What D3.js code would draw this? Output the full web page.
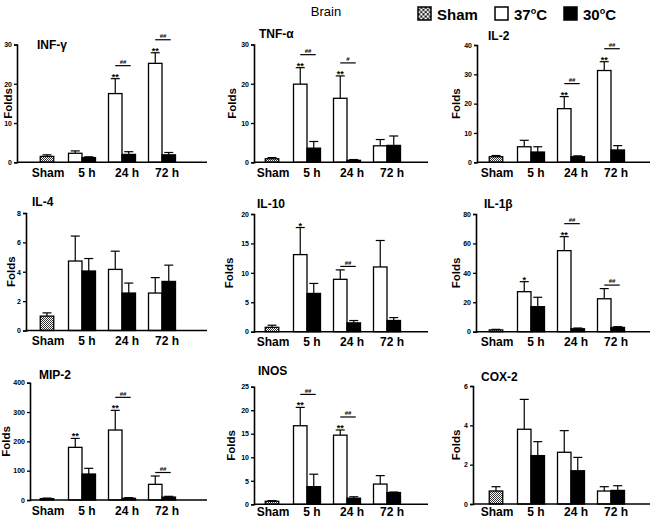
<!DOCTYPE html>
<html><head><meta charset="utf-8">
<script src="https://cdn.jsdelivr.net/npm/d3@7"></script>
<style>
body{margin:0;background:#fff;}
svg text{font-family:"Liberation Sans",Arial,sans-serif;}
</style></head>
<body><svg id="c" width="654" height="518"></svg>
<script>
// ---------- data ----------
const groups = ["Sham", "5 h", "24 h", "72 h"];
const panelNames = ["INF-γ", "TNF-α", "IL-2", "IL-4", "IL-10", "IL-1β", "MIP-2", "INOS", "COX-2"];
const yMax = [30, 30, 40, 8, 20, 80, 400, 25, 6];
const yStep = [10, 10, 10, 2, 5, 20, 100, 5, 2];
const shamMean = [1.5, 0.9, 1.9, 0.98, 0.74, 1.2, 4.5, 0.64, 0.66];
const shamErr  = [0.4, 0.3, 0.4, 0.22, 0.36, 0.4, 2, 0.14, 0.22];
// 37ºC values at 5 h, 24 h, 72 h
const warmMean = [[2.3,17.5,25.2],[19.9,16.3,4.2],[5.3,18.3,31.3],[4.73,4.16,2.55],[13.1,8.9,11.0],[27.2,55.1,22.4],[179.5,238.6,53.4],[16.7,14.7,4.3],[3.8,2.63,0.66]];
const warmErr  = [[0.6,3.8,2.7],[4.2,5.7,1.6],[2.2,4.1,3.0],[1.7,1.24,1.05],[4.6,1.6,4.5],[6.8,9.5,6.9],[30.5,67.1,28.4],[3.9,1.1,1.8],[1.52,1.1,0.22]];
// 30ºC values at 5 h, 24 h, 72 h
const coldMean = [[1.2,2.0,1.9],[3.6,0.5,4.3],[3.5,1.9,4.2],[4.05,2.55,3.34],[6.5,1.5,1.9],[17.0,2.0,2.9],[88.6,5.7,10],[3.75,1.3,2.5],[2.46,1.69,0.69]];
const coldErr  = [[0.2,0.7,0.6],[1.7,0.2,2.4],[1.8,0.3,1.5],[0.85,0.68,1.11],[1.7,0.4,0.5],[6.4,0.5,0.5],[19.4,2.3,2.5],[2.65,0.3,0.1],[0.71,0.68,0.24]];
// significance marks: [panel index, group, label]
const starMarks = [[0,"24 h","**"],[0,"72 h","**"],[1,"5 h","**"],[1,"24 h","**"],[2,"24 h","**"],[2,"72 h","**"],[4,"5 h","*"],[5,"5 h","*"],[5,"24 h","**"],[6,"5 h","**"],[6,"24 h","**"],[7,"5 h","**"],[7,"24 h","**"]];
const hashMarks = [[0,"24 h","##"],[0,"72 h","##"],[1,"5 h","##"],[1,"24 h","#"],[2,"24 h","##"],[2,"72 h","##"],[4,"24 h","##"],[5,"24 h","##"],[5,"72 h","##"],[6,"24 h","##"],[6,"72 h","##"],[7,"5 h","##"],[7,"24 h","##"]];
const legendLabels = ["Sham", "37", "30"];

// ---------- layout ----------
const svg = d3.select("#c");
const defs = svg.append("defs");
function checker(id, s, col) {
  const p = defs.append("pattern").attr("id", id).attr("patternUnits", "userSpaceOnUse")
    .attr("width", 2*s).attr("height", 2*s);
  p.append("rect").attr("width", 2*s).attr("height", 2*s).attr("fill", "#fff");
  p.append("rect").attr("width", s).attr("height", s).attr("fill", col);
  p.append("rect").attr("x", s).attr("y", s).attr("width", s).attr("height", s).attr("fill", col);
}
checker("sham", 1, "#333");
checker("shamL", 2.2, "#222");

const colOffset = [0, 225, 449];
const colEnd = [207, 428, 650];
const groupCenters = [47, 82, 122, 162];
const axisXs = [17, 254, 477, 26, 254, 476, 30, 254, 473];
const topYs = [44.5, 44.5, 45, 213, 214, 214, 382.7, 386.7, 386];
const zeroYs = [162.3, 162.3, 162.3, 330.5, 331.7, 331.7, 500, 504.3, 504];
const titlePos = [[37,49],[259,38],[488,40],[32,206],[257,208],[484,208],[39,379],[258,375],[481,381]];
const foldsX = [8, 232, 456, 11, 229, 456, 6, 231, 456];
const bw = 13.5;

panelNames.forEach((name, i) => {
  const col = i % 3;
  const g = svg.append("g");
  const x = d3.scaleOrdinal().domain(groups).range(groupCenters.map(c => c + colOffset[col]));
  const y = d3.scaleLinear().domain([0, yMax[i]]).range([zeroYs[i], topYs[i]]);
  const ax = axisXs[i];

  const bars = [{g: "Sham", v: shamMean[i], e: shamErr[i], x0: x("Sham") - bw/2, fill: "url(#sham)"}];
  groups.slice(1).forEach((grp, k) => {
    bars.push({g: grp, v: warmMean[i][k], e: warmErr[i][k], x0: x(grp) - bw, fill: "#fff"});
    bars.push({g: grp, v: coldMean[i][k], e: coldErr[i][k], x0: x(grp), fill: "#000"});
  });

  bars.forEach(b => {
    const cx = b.x0 + bw/2;
    g.append("line").attr("x1", cx).attr("x2", cx).attr("y1", y(b.v)).attr("y2", y(b.v + b.e))
      .attr("stroke", "#000").attr("stroke-width", 1.2);
    g.append("line").attr("x1", cx - 4.5).attr("x2", cx + 4.5).attr("y1", y(b.v + b.e)).attr("y2", y(b.v + b.e))
      .attr("stroke", "#000").attr("stroke-width", 1.2);
  });
  g.selectAll("rect.bar").data(bars).join("rect").attr("class", "bar")
    .attr("x", d => d.x0).attr("width", bw)
    .attr("y", d => y(d.v)).attr("height", d => y(0) - y(d.v))
    .attr("fill", d => d.fill).attr("stroke", "#000").attr("stroke-width", 1.3);

  // y axis
  const yAxis = d3.axisLeft(y).tickValues(d3.range(0, yMax[i] + yStep[i]/2, yStep[i]))
    .tickSize(3).tickPadding(2).tickFormat(d3.format("d"));
  const ya = g.append("g").attr("transform", `translate(${ax},0)`).call(yAxis);
  ya.select(".domain").attr("stroke-width", 1.6);
  ya.selectAll(".tick line").attr("stroke-width", 1.3);
  ya.selectAll(".tick text").attr("font-size", 7).attr("font-weight", "bold")
    .attr("font-family", "'Liberation Sans',Arial,sans-serif");

  // x axis
  g.append("line").attr("x1", ax).attr("x2", colEnd[col]).attr("y1", y(0)).attr("y2", y(0))
    .attr("stroke", "#000").attr("stroke-width", 1.6);
  groups.forEach((grp, k) => {
    g.append("text").attr("x", x(grp) + (k === 0 ? 1 : 5)).attr("y", Math.min(y(0) + 14.5, 516))
      .attr("text-anchor", "middle").attr("font-size", 12).attr("font-weight", "bold").text(grp);
  });

  // title and y label
  g.append("text").attr("x", titlePos[i][0]).attr("y", titlePos[i][1])
    .attr("font-size", 12).attr("font-weight", "bold").text(name);
  const my = (y(0) + y(yMax[i])) / 2;
  g.append("text").attr("transform", `translate(${foldsX[i] + 4},${my}) rotate(-90)`)
    .attr("text-anchor", "middle").attr("font-size", 11.5).attr("font-weight", "bold").text("Folds");

  // significance
  const wTop = grp => { const k = groups.indexOf(grp) - 1; return y(warmMean[i][k] + warmErr[i][k]); };
  const hasStar = grp => starMarks.some(m => m[0] === i && m[1] === grp);
  starMarks.filter(m => m[0] === i).forEach(m => {
    g.append("text").attr("x", x(m[1]) - bw/2).attr("y", wTop(m[1]) + 1)
      .attr("text-anchor", "middle").attr("font-size", 9).attr("font-weight", "bold").text(m[2]);
  });
  hashMarks.filter(m => m[0] === i).forEach(m => {
    const ly = wTop(m[1]) - (hasStar(m[1]) ? 13 : 3.5);
    const x1 = x(m[1]) - bw/2, x2 = x(m[1]) + bw/2 + 2;
    g.append("line").attr("x1", x1).attr("x2", x2).attr("y1", ly).attr("y2", ly)
      .attr("stroke", "#000").attr("stroke-width", 1.2);
    g.append("text").attr("x", (x1 + x2)/2).attr("y", ly - 1.8)
      .attr("text-anchor", "middle").attr("font-size", 6).attr("font-weight", "bold").text(m[2]);
  });
});

// ---------- header / legend ----------
svg.append("text").attr("x", 326).attr("y", 16).attr("text-anchor", "middle")
  .attr("font-size", 13).text("Brain");
const legX = [418, 495, 564];
const legFill = ["url(#shamL)", "#fff", "#000"];
legendLabels.forEach((lab, k) => {
  svg.append("rect").attr("x", legX[k]).attr("y", 7).attr("width", 13).attr("height", 13)
    .attr("fill", legFill[k]).attr("stroke", "#000").attr("stroke-width", 1.5);
  const t = svg.append("text").attr("x", legX[k] + 19).attr("y", 19.5)
    .attr("font-size", 15).attr("font-weight", "bold");
  if (k === 0) t.text(lab);
  else {
    t.append("tspan").text(lab);
    t.append("tspan").attr("font-size", 9).attr("dy", -6).text("o");
    t.append("tspan").attr("dy", 6).text("C");
  }
});
</script></body></html>
